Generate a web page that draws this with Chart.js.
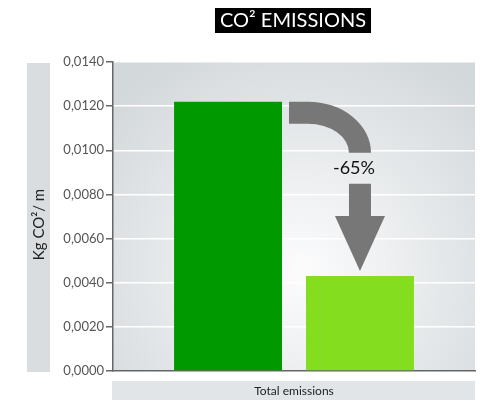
<!DOCTYPE html>
<html>
<head>
<meta charset="utf-8">
<title>CO2 emissions</title>
<script src="https://cdn.jsdelivr.net/npm/chart.js@4/dist/chart.umd.min.js"></script>
<style>
  html, body { margin: 0; padding: 0; background: #fff; }
  #wrap { width: 484px; height: 401px; }
</style>
</head>
<body>
<div id="wrap"><canvas id="co2Chart" width="484" height="401"></canvas></div>
<script>
/* ---- data ---- */
const categories = ["Total emissions"];
const seriesNames = ["Before", "After"];
const beforeValues = [0.0122];
const afterValues = [0.0043];
const yMin = 0;
const yMax = 0.014;
const yStep = 0.002;
const changeLabel = "-65%";

const chartTitle = "CO\u00B2 EMISSIONS";
const yTitle = "Kg CO\u00B2/ m";
const FONT = "Lato, 'Open Sans', sans-serif";

/* ---- decorations: background, title boxes, arrow ---- */
const decorPlugin = {
  id: "decor",
  beforeDraw(chart) {
    const ctx = chart.ctx;
    const a = chart.chartArea;

    // plot background
    const gx = a.left + (a.right - a.left) * 0.52;
    const gy = a.top + (a.bottom - a.top) * 0.68;
    const grad = ctx.createRadialGradient(gx, gy, 0, gx, gy, 250);
    grad.addColorStop(0, "#fcfcfd");
    grad.addColorStop(0.35, "#eef0f1");
    grad.addColorStop(1, "#d3d8db");
    ctx.save();
    ctx.fillStyle = grad;
    ctx.fillRect(a.left, a.top, a.right - a.left, a.bottom - a.top);

    // title
    ctx.font = "20px " + FONT;
    const tw = ctx.measureText(chartTitle).width;
    const tcx = 293;
    ctx.fillStyle = "#000";
    ctx.fillRect(tcx - tw / 2 - 5, 8, tw + 10, 25);
    ctx.fillStyle = "#fff";
    ctx.textAlign = "center";
    ctx.textBaseline = "middle";
    ctx.fillText(chartTitle, tcx, 21);

    // y axis title box
    ctx.fillStyle = "#dadde0";
    ctx.fillRect(27, a.top + 1, 23, a.bottom - a.top);
    ctx.save();
    ctx.translate(39, (a.top + a.bottom) / 2 + 8);
    ctx.rotate(-Math.PI / 2);
    ctx.fillStyle = "#222";
    ctx.font = "15px " + FONT;
    ctx.fillText(yTitle, 0, 0);
    ctx.restore();

    // x axis title box
    ctx.fillStyle = "#e2e5e7";
    ctx.fillRect(a.left - 1, 381, a.right - a.left + 1, 19);
    ctx.fillStyle = "#222";
    ctx.font = "12px " + FONT;
    ctx.fillText(categories[0], (a.left + a.right) / 2, 391);
    ctx.restore();
  },
  afterDatasetsDraw(chart) {
    const ctx = chart.ctx;
    const b0 = chart.getDatasetMeta(0).data[0];
    const b1 = chart.getDatasetMeta(1).data[0];
    const t = 22;
    const x0 = b0.x + b0.width / 2 + 7;
    const yTop = b0.y;
    const cx = b1.x;
    const ex = x0 + 19;
    const elbowY = yTop + 51;
    const tipY = b1.y - 5;

    ctx.save();
    ctx.fillStyle = "#777777";

    // curved band
    ctx.beginPath();
    ctx.moveTo(x0, yTop);
    ctx.lineTo(ex, yTop);
    ctx.ellipse(ex, elbowY, cx + t / 2 - ex, elbowY - yTop, 0, -Math.PI / 2, 0);
    ctx.lineTo(cx - t / 2, elbowY);
    ctx.ellipse(ex, elbowY, cx - t / 2 - ex, elbowY - yTop - t, 0, 0, -Math.PI / 2, true);
    ctx.lineTo(x0, yTop + t);
    ctx.closePath();
    ctx.fill();

    // straight arrow
    const shaftTop = elbowY + 31;
    const headTop = tipY - 55;
    ctx.beginPath();
    ctx.moveTo(cx - t / 2, shaftTop);
    ctx.lineTo(cx + t / 2, shaftTop);
    ctx.lineTo(cx + t / 2, headTop);
    ctx.lineTo(cx + 25, headTop);
    ctx.lineTo(cx, tipY);
    ctx.lineTo(cx - 25, headTop);
    ctx.lineTo(cx - t / 2, headTop);
    ctx.closePath();
    ctx.fill();

    // change label
    ctx.fillStyle = "#111";
    ctx.font = "18px " + FONT;
    ctx.textAlign = "center";
    ctx.textBaseline = "middle";
    ctx.fillText(changeLabel, cx - 6, elbowY + 15);
    ctx.restore();
  }
};

/* ---- chart ---- */
new Chart(document.getElementById("co2Chart"), {
  type: "bar",
  data: {
    labels: categories,
    datasets: [
      {
        label: seriesNames[0],
        data: beforeValues,
        backgroundColor: "#009a00",
        categoryPercentage: 0.729,
        barPercentage: 0.818
      },
      {
        label: seriesNames[1],
        data: afterValues,
        backgroundColor: "#84dd1e",
        categoryPercentage: 0.729,
        barPercentage: 0.818
      }
    ]
  },
  options: {
    responsive: false,
    animation: false,
    layout: { padding: { top: 62, right: 9, bottom: 0, left: 0 } },
    plugins: {
      legend: { display: false },
      title: { display: false },
      tooltip: { enabled: false }
    },
    scales: {
      x: {
        ticks: { display: false },
        grid: { display: false },
        border: { display: true, color: "#666", width: 1.5 },
        afterFit(scale) { scale.height = 30; }
      },
      y: {
        min: yMin,
        max: yMax,
        ticks: {
          stepSize: yStep,
          color: "#555",
          padding: 2,
          font: { family: FONT, size: 13 },
          callback: (v) => v.toFixed(4).replace(".", ",")
        },
        grid: {
          color: "#ffffff",
          lineWidth: 1.5,
          tickColor: "#666",
          tickLength: 7
        },
        border: { display: true, color: "#666", width: 1.5 },
        afterFit(scale) { scale.width = 113; }
      }
    }
  },
  plugins: [decorPlugin]
});
</script>
</body>
</html>
